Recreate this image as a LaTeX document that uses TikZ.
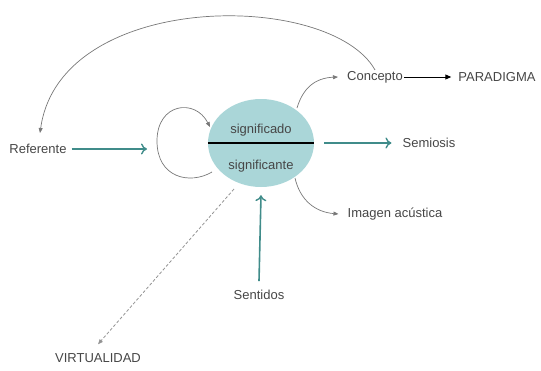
\documentclass[tikz,border=0pt]{standalone}
\usepackage{fontspec}
\setmainfont{Liberation Sans}
\usetikzlibrary{shapes.geometric,arrows.meta}
\definecolor{tealarr}{RGB}{64,140,138}
\definecolor{ellfill}{RGB}{170,214,216}
\definecolor{grayarr}{RGB}{120,120,120}
\definecolor{txtgray}{RGB}{70,70,70}
\tikzset{
  lbl/.style={inner sep=1pt, font=\fontsize{13}{15}\selectfont, text=txtgray},
  tealline/.style={draw=tealarr, line width=1.6pt, -{To[length=6pt,width=11pt,line width=1.4pt]}},
  grayline/.style={draw=grayarr, line width=0.7pt, -{Triangle[length=5pt,width=4pt]}},
  blackline/.style={draw=black, line width=1pt, -{Triangle[length=6pt,width=5pt]}},
  dashline/.style={draw=grayarr!80, line width=0.8pt, dash pattern=on 3pt off 2pt, -{Triangle[length=5pt,width=4pt]}},
}
\begin{document}
\begin{tikzpicture}[x=1pt,y=-1pt]
\useasboundingbox (0,0) rectangle (541,370);
% central ellipse
\node[ellipse, fill=ellfill, minimum width=106pt, minimum height=88pt, inner sep=0pt] (sig) at (261,143) {};
\node[lbl] (sdo) at (261,130) {significado};
\node[lbl] (ste) at (261,166) {significante};
\draw[black, line width=1.6pt] (sig.west) -- (sig.east);
% texts
\node[lbl] (ref) at (38,149) {Referente};
\node[lbl] (conc) at (375,77) {Concepto};
\node[lbl] (par) at (497,77) {PARADIGMA};
\node[lbl] (sem) at (429,143) {Semiosis};
\node[lbl] (img) at (395,214) {Imagen acústica};
\node[lbl] (sen) at (259,295) {Sentidos};
\node[lbl] (vir) at (98,358) {VIRTUALIDAD};
% coordinates
\coordinate (loopin) at (147,149);
\coordinate (loopA) at (212,172);
\coordinate (loopB) at (210,127);
\coordinate (concA) at (297,108);
\coordinate (imgA) at (295,178);
\coordinate (virA) at (234,189);
% connectors
\draw[tealline] (ref.east) ++(4pt,0) -- (loopin);
\draw[tealline] ([xshift=10pt]sig.east) -- ([xshift=-10pt]sem.west);
\draw[tealline] ([yshift=8pt]sen.north) -- ([yshift=-8pt]sig.south);
\draw[grayline] (loopA) .. controls (190,185) and (157,178) .. (157,141)
   .. controls (157,103) and (195,98) .. (loopB);
\draw[grayline] (conc.north) .. controls (330,-10) and (60,-10) .. (40,133);
\draw[grayline] (concA) .. controls (303,88) and (315,78) .. ([xshift=-8pt]conc.west);
\draw[grayline] (imgA) .. controls (300,200) and (315,212) .. ([xshift=-8pt]img.west);
\draw[blackline] (conc.east) -- ([xshift=-6pt]par.west);
\draw[dashline] (virA) -- ([yshift=8pt]vir.north);
\end{tikzpicture}
\end{document}
